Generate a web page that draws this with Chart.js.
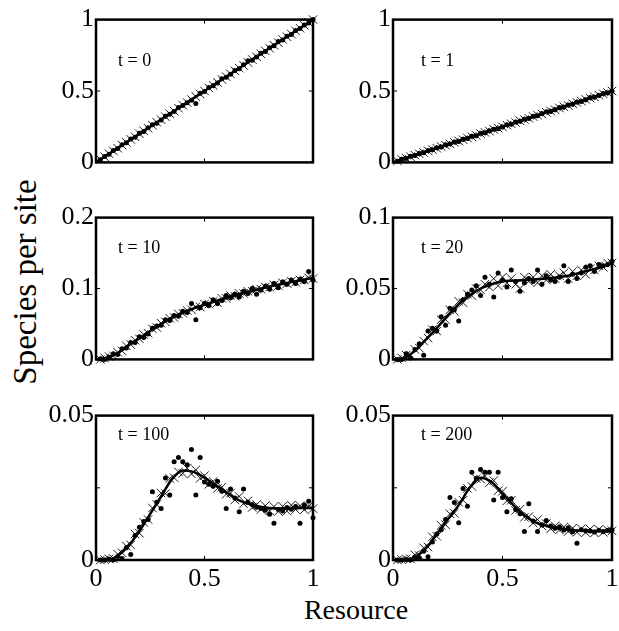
<!DOCTYPE html>
<html>
<head>
<meta charset="utf-8">
<script src="https://cdn.jsdelivr.net/npm/chart.js@4"></script>
<style>
  body { margin: 0; background: #fff; }
  #page { position: relative; width: 619px; height: 631px; overflow: hidden; font-family: "Liberation Serif", "Times New Roman", serif; }
  canvas { position: absolute; }
  .title { position: absolute; color: #000; white-space: nowrap; }
  #ytitle { left: 25px; top: 282px; font-size: 33px; transform: translate(-50%, -50%) rotate(-90deg); }
  #xtitle { left: 356px; top: 610px; font-size: 28px; transform: translate(-50%, -50%); }
</style>
</head>
<body>
<div id="page">
  <div class="title" id="ytitle">Species per site</div>
  <div class="title" id="xtitle">Resource</div>
</div>
<script>
// abscisses des points (croix et points noirs)
const xGrid = [0.02,0.04,0.06,0.08,0.10,0.12,0.14,0.16,0.18,0.20,0.22,0.24,0.26,0.28,0.30,0.32,0.34,0.36,0.38,0.40,
  0.42,0.44,0.46,0.48,0.50,0.52,0.54,0.56,0.58,0.60,0.62,0.64,0.66,0.68,0.70,0.72,0.74,0.76,0.78,0.80,
  0.82,0.84,0.86,0.88,0.90,0.92,0.94,0.96,0.98,1.00];
// abscisses de la courbe
const curveX = [0,0.05,0.10,0.15,0.20,0.25,0.30,0.35,0.40,0.45,0.50,0.55,0.60,0.65,0.70,0.75,0.80,0.85,0.90,0.95,1.00];

// t = 0
const t0Curve = [0,0.05,0.10,0.15,0.20,0.25,0.30,0.35,0.40,0.45,0.50,0.55,0.60,0.65,0.70,0.75,0.80,0.85,0.90,0.95,1.00];
const t0Crosses = [0.021,0.039,0.061,0.080,0.099,0.121,0.140,0.161,0.179,0.200,0.221,0.239,0.260,0.281,0.299,0.320,0.341,0.359,0.380,0.401,
  0.419,0.440,0.461,0.479,0.500,0.521,0.539,0.560,0.581,0.600,0.619,0.641,0.660,0.679,0.700,0.721,0.739,0.760,0.781,0.799,
  0.820,0.839,0.861,0.880,0.899,0.921,0.940,0.959,0.980,1.000];
const t0Dots = [0.018,0.042,0.057,0.083,0.097,0.124,0.137,0.163,0.176,0.204,0.216,0.243,0.263,0.274,0.297,0.324,0.338,0.357,0.384,0.398,
  0.417,0.436,0.413,0.484,0.497,0.524,0.537,0.556,0.585,0.597,0.617,0.644,0.656,0.684,0.712,0.716,0.738,0.764,0.776,0.803,
  0.817,0.846,0.857,0.883,0.896,0.924,0.937,0.962,0.977,1.000];

// t = 1
const t1Curve = [0,0.025,0.05,0.075,0.10,0.125,0.15,0.175,0.20,0.225,0.25,0.275,0.30,0.325,0.35,0.375,0.40,0.425,0.45,0.475,0.50];
const t1Crosses = [0.010,0.021,0.029,0.040,0.051,0.060,0.069,0.081,0.090,0.099,0.111,0.120,0.129,0.141,0.150,0.159,0.171,0.180,0.189,0.201,
  0.210,0.219,0.231,0.240,0.249,0.261,0.270,0.279,0.291,0.300,0.309,0.321,0.330,0.339,0.351,0.360,0.369,0.381,0.390,0.399,
  0.411,0.420,0.429,0.441,0.450,0.459,0.471,0.480,0.489,0.500];
const t1Dots = [0.008,0.022,0.027,0.043,0.048,0.062,0.067,0.083,0.088,0.102,0.107,0.123,0.128,0.143,0.147,0.162,0.168,0.183,0.187,0.204,
  0.207,0.222,0.233,0.236,0.248,0.263,0.267,0.283,0.288,0.303,0.307,0.323,0.327,0.342,0.354,0.357,0.368,0.384,0.387,0.402,
  0.408,0.423,0.426,0.438,0.454,0.456,0.468,0.483,0.486,0.498];

// t = 10
const t10Curve = [0,0.002,0.009,0.020,0.030,0.040,0.050,0.059,0.066,0.072,0.077,0.082,0.087,0.091,0.095,0.099,0.103,0.106,0.109,0.112,0.115];
const t10Crosses = [0.000,0.002,0.004,0.005,0.010,0.012,0.019,0.021,0.027,0.029,0.035,0.037,0.043,0.045,0.051,0.053,0.058,0.059,0.064,0.065,
  0.069,0.070,0.074,0.074,0.078,0.078,0.082,0.080,0.086,0.086,0.090,0.089,0.093,0.093,0.096,0.096,0.099,0.099,0.102,0.102,
  0.105,0.104,0.108,0.107,0.110,0.109,0.112,0.112,0.115,0.114];
const t10Dots = [0.001,0.000,0.003,0.008,0.007,0.015,0.016,0.024,0.024,0.032,0.031,0.036,0.044,0.047,0.048,0.056,0.055,0.062,0.061,0.068,
  0.066,0.079,0.056,0.073,0.079,0.076,0.084,0.079,0.083,0.090,0.087,0.092,0.088,0.096,0.093,0.100,0.092,0.098,0.103,0.099,
  0.107,0.101,0.109,0.106,0.112,0.107,0.113,0.110,0.124,0.112];

// t = 20
const t20Curve = [0,0.001,0.006,0.014,0.022,0.031,0.039,0.045,0.050,0.053,0.055,0.0555,0.056,0.0565,0.057,0.058,0.059,0.061,0.063,0.065,0.068];
const t20Crosses = [0.000,0.001,0.003,0.003,0.007,0.008,0.013,0.015,0.021,0.020,0.028,0.028,0.035,0.034,0.041,0.040,0.046,0.045,0.050,0.049,
  0.053,0.051,0.057,0.052,0.058,0.054,0.057,0.053,0.050,0.058,0.055,0.058,0.054,0.059,0.056,0.060,0.057,0.059,0.061,0.057,
  0.062,0.059,0.063,0.060,0.064,0.063,0.066,0.065,0.068,0.068];
const t20Dots = [0.000,0.000,0.004,0.001,0.007,0.011,0.003,0.020,0.022,0.020,0.030,0.024,0.036,0.035,0.027,0.042,0.046,0.049,0.052,0.045,
  0.058,0.053,0.044,0.061,0.056,0.051,0.063,0.055,0.048,0.054,0.057,0.055,0.063,0.053,0.059,0.056,0.055,0.058,0.066,0.055,
  0.060,0.057,0.061,0.065,0.066,0.062,0.067,0.066,0.067,0.069];

// t = 100
const t100Curve = [0,0,0.0015,0.005,0.010,0.016,0.022,0.028,0.031,0.0305,0.0285,0.026,0.0235,0.021,0.0195,0.0185,0.018,0.0178,0.0178,0.018,0.018];
const t100Crosses = [0.0000,0.0001,0.0004,0.0005,0.0020,0.0025,0.0048,0.0052,0.0090,0.0093,0.0130,0.0140,0.0180,0.0192,0.0232,0.0230,0.0282,0.0285,0.0305,0.0300,
  0.0318,0.0298,0.0312,0.0283,0.0292,0.0262,0.0272,0.0248,0.0252,0.0228,0.0232,0.0208,0.0220,0.0195,0.0205,0.0182,0.0192,0.0175,0.0188,0.0170,
  0.0185,0.0168,0.0186,0.0169,0.0190,0.0175,0.0188,0.0174,0.0186,0.0178];
const t100Dots = [0,0,0.0003,0.0000,0.0012,0.0005,0.0042,0.0019,0.0085,0.0113,0.0133,0.0140,0.0236,0.0200,0.0178,0.0284,0.0225,0.0340,0.0355,0.0340,
  0.0330,0.0383,0.0225,0.0355,0.0270,0.0262,0.0255,0.0273,0.0238,0.0178,0.0246,0.0215,0.0167,0.0246,0.0200,0.0192,0.0183,0.0178,0.0172,0.0158,
  0.0127,0.0175,0.0170,0.0182,0.0176,0.0185,0.0127,0.0190,0.0203,0.0146];

// t = 200
const t200Curve = [0,0,0.001,0.004,0.009,0.014,0.019,0.025,0.0285,0.027,0.023,0.019,0.0155,0.013,0.0118,0.011,0.0105,0.0102,0.010,0.010,0.0101];
const t200Crosses = [0.0000,0.0001,0.0004,0.0004,0.0018,0.0015,0.0042,0.0045,0.0080,0.0082,0.0120,0.0122,0.0160,0.0162,0.0200,0.0207,0.0248,0.0255,0.0282,0.0280,
  0.0290,0.0268,0.0275,0.0240,0.0238,0.0205,0.0207,0.0172,0.0176,0.0148,0.0150,0.0128,0.0140,0.0118,0.0126,0.0108,0.0118,0.0104,0.0114,0.0099,
  0.0110,0.0096,0.0108,0.0095,0.0107,0.0094,0.0106,0.0096,0.0104,0.0101];
const t200Dots = [0,0,0.0002,0.0000,0.0010,0.0008,0.0030,0.0011,0.0062,0.0090,0.0105,0.0140,0.0216,0.0199,0.0129,0.0248,0.0186,0.0304,0.0282,0.0313,
  0.0304,0.0304,0.0208,0.0304,0.0216,0.0167,0.0212,0.0175,0.0160,0.0099,0.0195,0.0135,0.0099,0.0122,0.0137,0.0118,0.0110,0.0115,0.0104,0.0112,
  0.0098,0.0058,0.0105,0.0101,0.0100,0.0097,0.0103,0.0099,0.0102,0.0104];

// graduations
const xTicks = [0, 0.5, 1];
const xTickLabels = ["0", "0.5", "1"];
const yTicksRow1 = [0, 0.5, 1];
const yLabelsRow1 = ["0", "0.5", "1"];
const yTicks10 = [0, 0.1, 0.2];
const yLabels10 = ["0", "0.1", "0.2"];
const yTicks20 = [0, 0.05, 0.1];
const yLabels20 = ["0", "0.05", "0.1"];
const yTicksRow3 = [0, 0.05];
const yLabelsRow3 = ["0", "0.05"];

const panels = [
  { label: "t = 0",   curve: t0Curve,   crosses: t0Crosses,   dots: t0Dots,   yMax: 1,    yTicks: yTicksRow1, yLabels: yLabelsRow1, col: 0, row: 0, ly: 42 },
  { label: "t = 1",   curve: t1Curve,   crosses: t1Crosses,   dots: t1Dots,   yMax: 1,    yTicks: yTicksRow1, yLabels: yLabelsRow1, col: 1, row: 0, ly: 42 },
  { label: "t = 10",  curve: t10Curve,  crosses: t10Crosses,  dots: t10Dots,  yMax: 0.2,  yTicks: yTicks10,   yLabels: yLabels10,   col: 0, row: 1, ly: 31 },
  { label: "t = 20",  curve: t20Curve,  crosses: t20Crosses,  dots: t20Dots,  yMax: 0.1,  yTicks: yTicks20,   yLabels: yLabels20,   col: 1, row: 1, ly: 31 },
  { label: "t = 100", curve: t100Curve, crosses: t100Crosses, dots: t100Dots, yMax: 0.05, yTicks: yTicksRow3, yLabels: yLabelsRow3, col: 0, row: 2, ly: 20 },
  { label: "t = 200", curve: t200Curve, crosses: t200Crosses, dots: t200Dots, yMax: 0.05, yTicks: yTicksRow3, yLabels: yLabelsRow3, col: 1, row: 2, ly: 20 }
];

// position des cadres dans la page
const colLeft = [96, 393];
const colWidth = [217, 219];
const rowTop = [16, 214, 412];
const rowHeight = [150, 149, 148];
const labelDx = [22, 28];

const FONT = "'Liberation Serif', 'Times New Roman', serif";
const AXIS_W = 80, PAD = 14, XAXIS_H = 34;

// cadre + petites graduations intérieures + étiquette "t = ..."
const boxPlugin = {
  id: "boxPlugin",
  afterDraw(chart, args, opts) {
    const a = chart.chartArea, c = chart.ctx;
    const xs = chart.scales.x, ys = chart.scales.y;
    c.save();
    c.strokeStyle = "#000";
    c.lineWidth = 2.5;
    c.strokeRect(a.left, a.top, a.right - a.left, a.bottom - a.top);
    c.lineWidth = 1;
    const xm = xs.getPixelForValue(0.5);
    const ym = ys.getPixelForValue(opts.yMax / 2);
    c.beginPath();
    c.moveTo(xm, a.top); c.lineTo(xm, a.top + 4);
    c.moveTo(xm, a.bottom); c.lineTo(xm, a.bottom - 4);
    c.moveTo(a.left, ym); c.lineTo(a.left + 4, ym);
    c.moveTo(a.right, ym); c.lineTo(a.right - 4, ym);
    c.stroke();
    c.fillStyle = "#000";
    c.font = "18px " + FONT;
    c.textBaseline = "middle";
    c.textAlign = "left";
    c.fillText(opts.label, a.left + opts.dx, a.top + opts.dy);
    c.restore();
  }
};

function makePanel(p) {
  const page = document.getElementById("page");
  const canvas = document.createElement("canvas");
  const bottomRow = p.row === 2;
  const w = colWidth[p.col] + AXIS_W + PAD;
  const h = rowHeight[p.row] + PAD + (bottomRow ? XAXIS_H : PAD);
  canvas.width = w;
  canvas.height = h;
  canvas.style.left = (colLeft[p.col] - AXIS_W) + "px";
  canvas.style.top = (rowTop[p.row] - PAD) + "px";
  canvas.style.width = w + "px";
  canvas.style.height = h + "px";
  page.appendChild(canvas);

  const curveData = curveX.map(function(x, i) { return { x: x, y: p.curve[i] }; });
  const crossData = xGrid.map(function(x, i) { return { x: x, y: p.crosses[i] }; });
  const dotData = xGrid.map(function(x, i) { return { x: x, y: p.dots[i] }; });

  new Chart(canvas.getContext("2d"), {
    type: "line",
    data: {
      datasets: [
        { data: dotData, showLine: false, pointStyle: "circle", pointRadius: 2.5,
          backgroundColor: "#000", borderColor: "#000", borderWidth: 0, clip: false },
        { data: crossData, showLine: false, pointStyle: "crossRot", pointRadius: 6,
          borderColor: "#000", borderWidth: 0.9, clip: false },
        { data: curveData, borderColor: "#000", borderWidth: 2.5, pointRadius: 0,
          cubicInterpolationMode: "monotone", fill: false, clip: false }
      ]
    },
    options: {
      responsive: false,
      animation: false,
      events: [],
      layout: { padding: { top: PAD, right: PAD, left: 0, bottom: bottomRow ? 0 : PAD } },
      plugins: {
        legend: { display: false },
        tooltip: { enabled: false },
        boxPlugin: { label: p.label, dx: labelDx[p.col], dy: p.ly, yMax: p.yMax }
      },
      scales: {
        x: {
          type: "linear", min: 0, max: 1,
          display: bottomRow,
          grid: { display: false, drawTicks: false },
          border: { display: false },
          afterBuildTicks: function(s) { s.ticks = xTicks.map(function(v) { return { value: v }; }); },
          afterFit: function(s) { s.height = bottomRow ? XAXIS_H : 0; },
          ticks: {
            padding: 4, color: "#000", maxRotation: 0,
            font: { family: FONT, size: 26 },
            callback: function(v, i) { return xTickLabels[i]; }
          }
        },
        y: {
          type: "linear", min: 0, max: p.yMax,
          grid: { display: false, drawTicks: false },
          border: { display: false },
          afterBuildTicks: function(s) { s.ticks = p.yTicks.map(function(v) { return { value: v }; }); },
          afterFit: function(s) { s.width = AXIS_W; },
          ticks: {
            padding: 2, color: "#000",
            font: { family: FONT, size: 26 },
            callback: function(v, i) { return p.yLabels[i]; }
          }
        }
      }
    },
    plugins: [boxPlugin]
  });
}

window.addEventListener("load", function() {
  panels.forEach(makePanel);
});
</script>
</body>
</html>
